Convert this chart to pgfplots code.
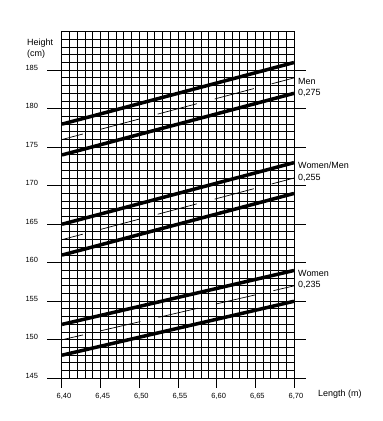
\documentclass[border=0pt]{standalone}
\usepackage{fontspec}
\setmainfont{Liberation Sans}
\usepackage{pgfplots}
\pgfplotsset{compat=1.18}
\begin{document}
\begin{tikzpicture}
\path[use as bounding box, fill=white] (0,0) rectangle (383bp,421bp);
\begin{axis}[
  at={(62bp,42.7bp)}, anchor=south west,
  scale only axis, width=232bp, height=346.6bp,
  xmin=6.40, xmax=6.70, ymin=145, ymax=190,
  xtick={6.40,6.45,6.50,6.55,6.60,6.65,6.70},
  ytick={145,150,155,160,165,170,175,180,185},
  minor xtick={6.41,6.42,6.43,6.44,6.46,6.47,6.48,6.49,6.51,6.52,6.53,6.54,6.56,6.57,6.58,6.59,6.61,6.62,6.63,6.64,6.66,6.67,6.68,6.69},
  minor ytick={146,147,148,149,151,152,153,154,156,157,158,159,161,162,163,164,166,167,168,169,171,172,173,174,176,177,178,179,181,182,183,184,186,187,188,189},
  grid=both,
  major grid style={black, line width=1bp},
  minor grid style={black, line width=1bp},
  major tick length=0pt, minor tick length=0pt,
  axis line style={black, line width=1bp},
  clip=false,
  tick label style={font=\fontsize{7.5}{9}\selectfont},
  xticklabel style={anchor=north, yshift=-11bp, xshift=2bp, /pgf/number format/.cd, fixed, fixed zerofill, precision=2, use comma, assume math mode=true},
  yticklabel style={anchor=east, xshift=-20.5bp, yshift=2.5bp, /pgf/number format/.cd, assume math mode=true},
  dashline/.style={black, line width=0.7bp, dash pattern=on 40.5bp off 18.5bp, dash phase=19bp},
  thickline/.style={black, line width=3.5bp},
]
% tick marks
\pgfplotsinvokeforeach{145,150,155,160,165,170,175,180,185}{
  \draw[black, line width=1bp] (axis cs:6.40,#1) -- ([xshift=-15bp]axis cs:6.40,#1);
  \draw[black, line width=1bp] (axis cs:6.70,#1) -- ([xshift=12bp]axis cs:6.70,#1);
}
\pgfplotsinvokeforeach{6.40,6.45,6.50,6.55,6.60,6.65,6.70}{
  \draw[black, line width=1bp] (axis cs:#1,145) -- ([yshift=-10bp]axis cs:#1,145);
}
% Men
\addplot[thickline] coordinates {(6.40,178) (6.70,186)};
\addplot[dashline] coordinates {(6.40,176) (6.70,184)};
\addplot[thickline] coordinates {(6.40,174) (6.70,182)};
% Women/Men
\addplot[thickline] coordinates {(6.40,165) (6.70,173)};
\addplot[dashline] coordinates {(6.40,163) (6.70,171)};
\addplot[thickline] coordinates {(6.40,161) (6.70,169)};
% Women
\addplot[thickline] coordinates {(6.40,152) (6.70,159)};
\addplot[dashline] coordinates {(6.40,150) (6.70,157)};
\addplot[thickline] coordinates {(6.40,148) (6.70,155)};
\end{axis}
\begin{scope}[every node/.style={inner sep=0pt, font=\fontsize{9}{11}\selectfont}]
\node[anchor=base west] at (27bp,375bp) {Height};
\node[anchor=base west] at (27bp,364bp) {(cm)};
\node[anchor=base west] at (318bp,24.5bp) {Length (m)};
\node[anchor=base west] at (298bp,336.7bp) {Men};
\node[anchor=base west] at (298bp,325.3bp) {0,275};
\node[anchor=base west] at (298bp,252bp) {Women/Men};
\node[anchor=base west] at (298bp,240.3bp) {0,255};
\node[anchor=base west] at (298bp,144.3bp) {Women};
\node[anchor=base west] at (298bp,133.5bp) {0,235};
\end{scope}
\end{tikzpicture}
\end{document}
